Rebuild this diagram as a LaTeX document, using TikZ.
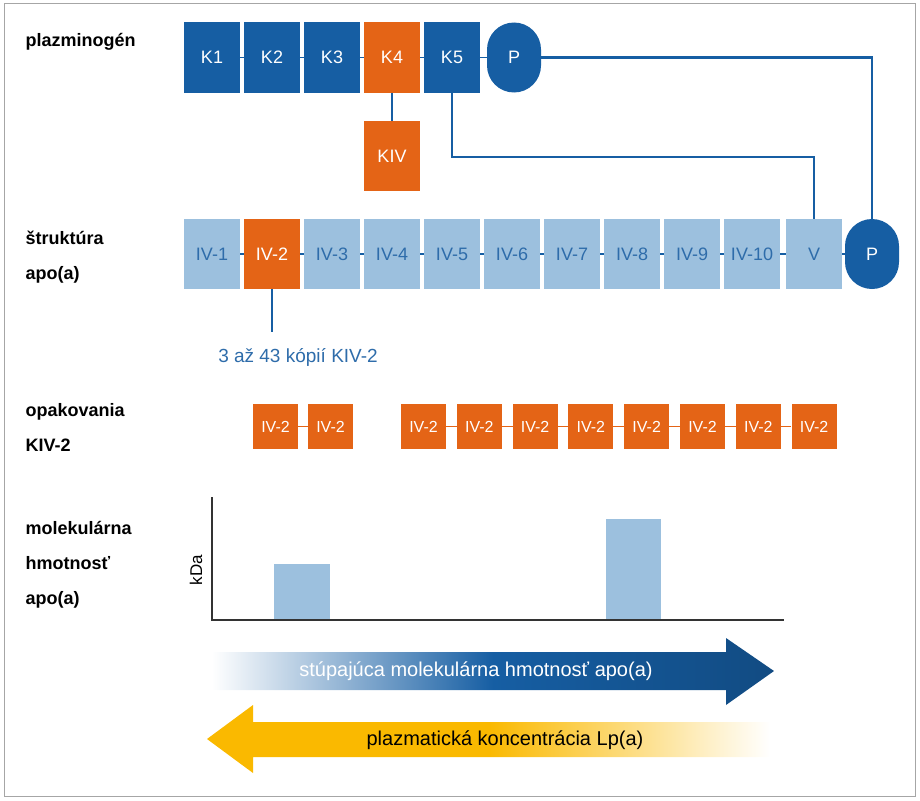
\documentclass[tikz,border=0pt]{standalone}
\usepackage{fontspec}
\setmainfont{Liberation Sans}
\usetikzlibrary{positioning,backgrounds}
\definecolor{darkblue}{RGB}{22,94,163}
\definecolor{lightblue}{RGB}{156,192,222}
\definecolor{orangebox}{RGB}{228,100,22}
\definecolor{textblue}{RGB}{46,108,170}
\definecolor{goldarrow}{RGB}{250,185,0}
\tikzset{
  box/.style={minimum width=56pt, minimum height=70pt, inner sep=0pt, text=white, font=\fontsize{18}{21}\selectfont},
  kbox/.style={box, fill=darkblue},
  abox/.style={box, fill=lightblue, text=textblue},
  obox/.style={box, fill=orangebox},
  pnode/.style={box, rounded corners=27pt, minimum width=54pt, fill=darkblue},
  rbox/.style={minimum width=45pt, minimum height=45pt, inner sep=0pt, fill=orangebox, text=white, font=\fontsize{16}{18}\selectfont},
  rowlabel/.style={anchor=north west, align=left, font=\bfseries\fontsize{18}{35}\selectfont},
  link/.style={darkblue, line width=2.2pt},
}
\begin{document}
\begin{tikzpicture}[x=1pt,y=-1pt]
  \useasboundingbox (0,0) rectangle (920,800);
  \draw[gray!70, line width=1pt] (4,4) rectangle (915,796);

  % row labels
  \node[rowlabel] (lplg) at (22,30) {plazminogén};
  \node[rowlabel] (lapo) at (22,228) {štruktúra\\apo(a)};
  \node[rowlabel] (lrep) at (22,400) {opakovania\\KIV-2};
  \node[rowlabel] (lmw) at (22,518) {molekulárna\\hmotnosť\\apo(a)};

  % plasminogen
  \foreach \i in {1,2,3,5}
    \node[kbox] (k\i) at (212+60*\i-60,57.5) {K\i};
  \node[obox] (k4) at (392,57.5) {K4};
  \node[pnode] (p1) at (514,57.5) {P};
  \node[obox] (kiv) at (392,156) {KIV};

  % apo(a)
  \foreach \i in {1,3,4,5,6,7,8,9,10}
    \node[abox] (a\i) at (212+60*\i-60,254) {IV-\i};
  \node[obox] (a2) at (272,254) {IV-2};
  \node[abox] (av) at (814,254) {V};
  \node[pnode] (p2) at (872,254) {P};
  \coordinate (cnt) at (272,332);
  \node[text=textblue, font=\fontsize{19}{22}\selectfont] (ncopies) at (298,357) {3 až 43 kópií KIV-2};

  \begin{scope}[on background layer]
    \draw[darkblue, line width=1.5pt] (k1) -- (p1);
    \draw[darkblue, line width=1.5pt] (a1) -- (p2);
  \end{scope}
  \draw[link] (k4) -- (kiv);
  \draw[link] (p1.east) -| (p2.north);
  \draw[link] (k5.south) |- ++(0,64) -| (av.north);
  \draw[link] (a2.south) -- (cnt);

  % KIV-2 repeats
  \node[rbox] (r1) at (275.5,426.5) {IV-2};
  \node[rbox] (r2) at (330.5,426.5) {IV-2};
  \foreach \i in {3,...,10}
    \node[rbox] (r\i) at (423.5+55.8*\i-167.4,426.5) {IV-2};
  \begin{scope}[on background layer]
    \draw[orangebox, line width=1.5pt] (r1) -- (r2);
    \draw[orangebox, line width=1.5pt] (r3) -- (r10);
  \end{scope}

  % molecular weight chart
  \coordinate (ytop) at (212,497);
  \coordinate (orig) at (212,620);
  \coordinate (xend) at (784,620);
  \fill[lightblue] (274,564) rectangle (330,620);
  \fill[lightblue] (606,519) rectangle (661,620);
  \draw[black!80, line width=1.5pt] (ytop) -- (orig) -- (xend);
  \node[rotate=90, font=\fontsize{17}{20}\selectfont] (kda) at (196,570) {kDa};

  % arrows
  \shade[left color=white, right color=darkblue!80!black, middle color=darkblue]
    (212,652) -- (726,652) -- (726,638) -- (774,671) -- (726,705) -- (726,690) -- (212,690) -- cycle;
  \node[text=white, font=\fontsize{20}{24}\selectfont] (tmw) at (476,671) {stúpajúca molekulárna hmotnosť apo(a)};
  \shade[left color=goldarrow, right color=white, middle color=goldarrow]
    (770,722) -- (253,722) -- (253,705) -- (207,739) -- (253,773) -- (253,757) -- (770,757) -- cycle;
  \node[font=\fontsize{20}{24}\selectfont] (tlp) at (505,740) {plazmatická koncentrácia Lp(a)};
\end{tikzpicture}
\end{document}
